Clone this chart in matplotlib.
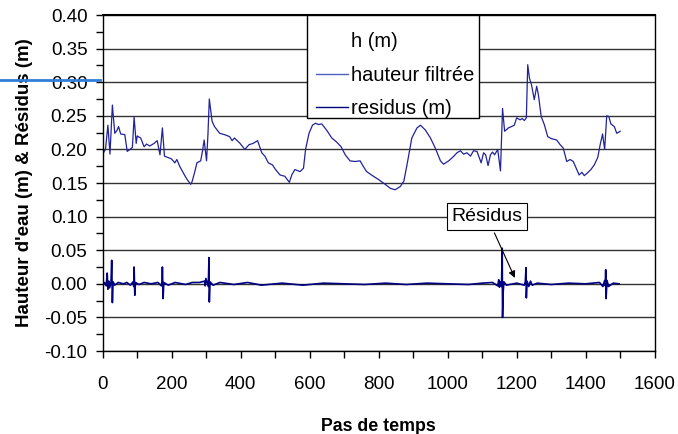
import matplotlib
matplotlib.use("Agg")
import matplotlib.pyplot as plt
from matplotlib.lines import Line2D
from matplotlib.patches import Rectangle
from matplotlib.ticker import MultipleLocator, FormatStrFormatter

plt.rcParams['font.family'] = ['Liberation Sans', 'DejaVu Sans']
plt.rcParams['axes.unicode_minus'] = False

# Filtered water height (hauteur filtrée)
t_filt = [0, 8, 15, 21, 28, 35, 41, 46, 52, 64, 71, 79, 86, 91, 97, 100, 110, 120, 127, 136,
          149, 158, 166, 173, 179, 189, 199, 209, 215, 223, 238, 245, 255, 259, 267, 273, 284,
          289, 294, 301, 305, 309, 317, 324, 339, 353, 368, 375, 382, 398, 412, 424, 436, 449,
          461, 470, 480, 492, 501, 514, 528, 541, 548, 557, 572, 582, 588, 598, 608, 617, 625,
          635, 650, 664, 678, 691, 703, 717, 731, 746, 755, 765, 779, 800, 819, 834, 848, 863,
          873, 882, 896, 911, 921, 935, 950, 964, 979, 988, 1003, 1018, 1027, 1037, 1046, 1056,
          1066, 1075, 1085, 1092, 1097, 1104, 1110, 1117, 1124, 1130, 1136, 1145, 1153, 1159,
          1165, 1176, 1185, 1193, 1200, 1210, 1216, 1222, 1228, 1232, 1237, 1243, 1251, 1258,
          1263, 1271, 1280, 1290, 1301, 1316, 1326, 1335, 1345, 1355, 1364, 1374, 1381, 1389,
          1396, 1405, 1415, 1425, 1435, 1442, 1449, 1455, 1461, 1467, 1473, 1483, 1490, 1500]
h_filt = [0.193, 0.200, 0.236, 0.193, 0.266, 0.224, 0.228, 0.234, 0.223, 0.222, 0.197, 0.200,
          0.203, 0.248, 0.209, 0.220, 0.217, 0.204, 0.208, 0.205, 0.209, 0.213, 0.192, 0.232,
          0.190, 0.188, 0.186, 0.180, 0.185, 0.175, 0.161, 0.155, 0.148, 0.152, 0.167, 0.180,
          0.183, 0.197, 0.214, 0.183, 0.222, 0.275, 0.242, 0.234, 0.224, 0.222, 0.219, 0.213,
          0.217, 0.209, 0.200, 0.207, 0.209, 0.213, 0.195, 0.190, 0.180, 0.177, 0.170, 0.162,
          0.160, 0.151, 0.162, 0.170, 0.167, 0.172, 0.200, 0.224, 0.236, 0.239, 0.237, 0.238,
          0.228, 0.217, 0.211, 0.204, 0.192, 0.183, 0.182, 0.183, 0.175, 0.167, 0.162, 0.155,
          0.148, 0.142, 0.140, 0.145, 0.153, 0.177, 0.217, 0.232, 0.236, 0.229, 0.217, 0.202,
          0.183, 0.178, 0.183, 0.190, 0.195, 0.198, 0.193, 0.195, 0.190, 0.198, 0.197, 0.187,
          0.180, 0.195, 0.192, 0.176, 0.192, 0.196, 0.192, 0.200, 0.168, 0.261, 0.227, 0.232,
          0.234, 0.236, 0.247, 0.244, 0.246, 0.243, 0.247, 0.326, 0.306, 0.296, 0.274, 0.294,
          0.281, 0.249, 0.237, 0.219, 0.216, 0.214, 0.207, 0.202, 0.182, 0.185, 0.182, 0.170,
          0.162, 0.166, 0.161, 0.165, 0.170, 0.177, 0.188, 0.207, 0.223, 0.200, 0.250, 0.249,
          0.238, 0.234, 0.224, 0.227]

# Residuals (residus)
t_res = [0, 5, 10, 13, 15, 18, 20, 24, 26, 28, 30, 35, 45, 60, 70, 80, 88, 90, 91, 93, 95,
         105, 120, 140, 160, 170, 172, 173, 175, 177, 190, 210, 240, 260, 280, 295, 297, 299,
         306, 308, 309, 311, 320, 340, 380, 420, 460, 520, 580, 640, 700, 760, 820, 880, 940,
         1000, 1060, 1100, 1130, 1145, 1148, 1150, 1152, 1156, 1158, 1159, 1161, 1163, 1170,
         1200, 1222, 1225, 1227, 1228, 1230, 1235, 1240, 1245, 1260, 1300, 1350, 1400, 1440,
         1450, 1455, 1457, 1458, 1459, 1462, 1466, 1480, 1497]
r_res = [0.000, 0.002, -0.003, 0.016, -0.008, 0.004, -0.006, 0.002, 0.035, -0.028, 0.003,
         -0.002, 0.002, 0.000, 0.002, -0.002, 0.003, -0.004, 0.025, -0.017, 0.002, -0.001,
         0.002, 0.000, 0.002, -0.003, 0.004, 0.025, -0.022, 0.002, -0.002, 0.002, -0.001,
         0.002, 0.002, 0.004, -0.003, 0.008, -0.004, 0.039, -0.027, 0.003, -0.002, 0.002,
         -0.001, 0.002, -0.002, 0.001, -0.002, 0.001, 0.000, -0.001, 0.001, -0.001, 0.001,
         0.000, -0.001, 0.001, 0.002, -0.003, 0.006, -0.005, 0.003, -0.004, 0.053, -0.050,
         -0.011, 0.003, -0.002, 0.001, -0.002, 0.003, 0.024, -0.021, 0.004, -0.004, 0.004,
         -0.002, 0.001, -0.001, 0.001, 0.000, 0.002, -0.004, 0.005, -0.003, 0.021, -0.022,
         0.005, -0.004, 0.001, 0.000]

legend_labels = ["h (m)", "hauteur filtrée", "residus (m)"]
annot_text = "Résidus"
annot_xy = (1198, 0.005)
annot_text_xy = (1114, 0.10)

fig = plt.figure(figsize=(6.78, 4.34), dpi=100)
ax = fig.add_axes([0.1515, 0.1912, 0.9656 - 0.1515, 0.9654 - 0.1912])

ax.set_xlim(0, 1600)
ax.set_ylim(-0.10, 0.40)
ax.xaxis.set_major_locator(MultipleLocator(200))
ax.xaxis.set_minor_locator(MultipleLocator(100))
ax.yaxis.set_major_locator(MultipleLocator(0.05))
ax.yaxis.set_minor_locator(MultipleLocator(0.025))
ax.yaxis.set_major_formatter(FormatStrFormatter('%.2f'))
ax.tick_params(which='both', direction='out', length=5, width=1, color='black',
               labelsize=13.5, top=False, right=False)
ax.tick_params(axis='x', pad=13)
ax.tick_params(axis='y', pad=6)
ax.grid(axis='y', which='major', color='#333333', linewidth=1.0)
ax.set_axisbelow(True)
for s in ax.spines.values():
    s.set_color('black')
    s.set_linewidth(1.0)
ax.spines['top'].set_linewidth(1.5)

ax.plot(t_filt, h_filt, color='#22229a', linewidth=0.9)
ax.plot(t_res, r_res, color='#000080', linewidth=1.2)

# legend frame drawn as a plain box
ax.add_patch(Rectangle((0.3707, 0.6935), 0.6822 - 0.3707, 1.0 - 0.6935,
                       transform=ax.transAxes, facecolor='white', edgecolor='black',
                       linewidth=1.0, zorder=4.5, clip_on=False))
handles = [Line2D([], [], color='white', linewidth=1),
           Line2D([], [], color='#5060c0', linewidth=1),
           Line2D([], [], color='#000080', linewidth=1)]
leg = ax.legend(handles, legend_labels, loc='upper left', bbox_to_anchor=(0.3864, 0.949),
                fontsize=14.5, frameon=False, handlelength=1.6, handletextpad=0.12,
                labelspacing=0.72, borderpad=0, borderaxespad=0)
leg.set_zorder(5)

ax.annotate(annot_text, xy=annot_xy, xytext=annot_text_xy, fontsize=14,
            ha='center', va='center',
            bbox=dict(boxstyle='square,pad=0.25', fc='white', ec='black', lw=0.8),
            arrowprops=dict(arrowstyle='-|>', color='black', lw=0.8, mutation_scale=10))

ax.set_xlabel("Pas de temps", fontsize=12.8, fontweight='bold', labelpad=18)
ax.set_ylabel("Hauteur d'eau (m) & Résidus (m)", fontsize=13.5, fontweight='bold', labelpad=8)

# stray blue line at left of the figure
fig.add_artist(Line2D([0, 100 / 678], [1 - 80 / 434, 1 - 80 / 434],
                      transform=fig.transFigure, color='#2f7fd8', linewidth=2))

fig.savefig("out.png", dpi=100)
